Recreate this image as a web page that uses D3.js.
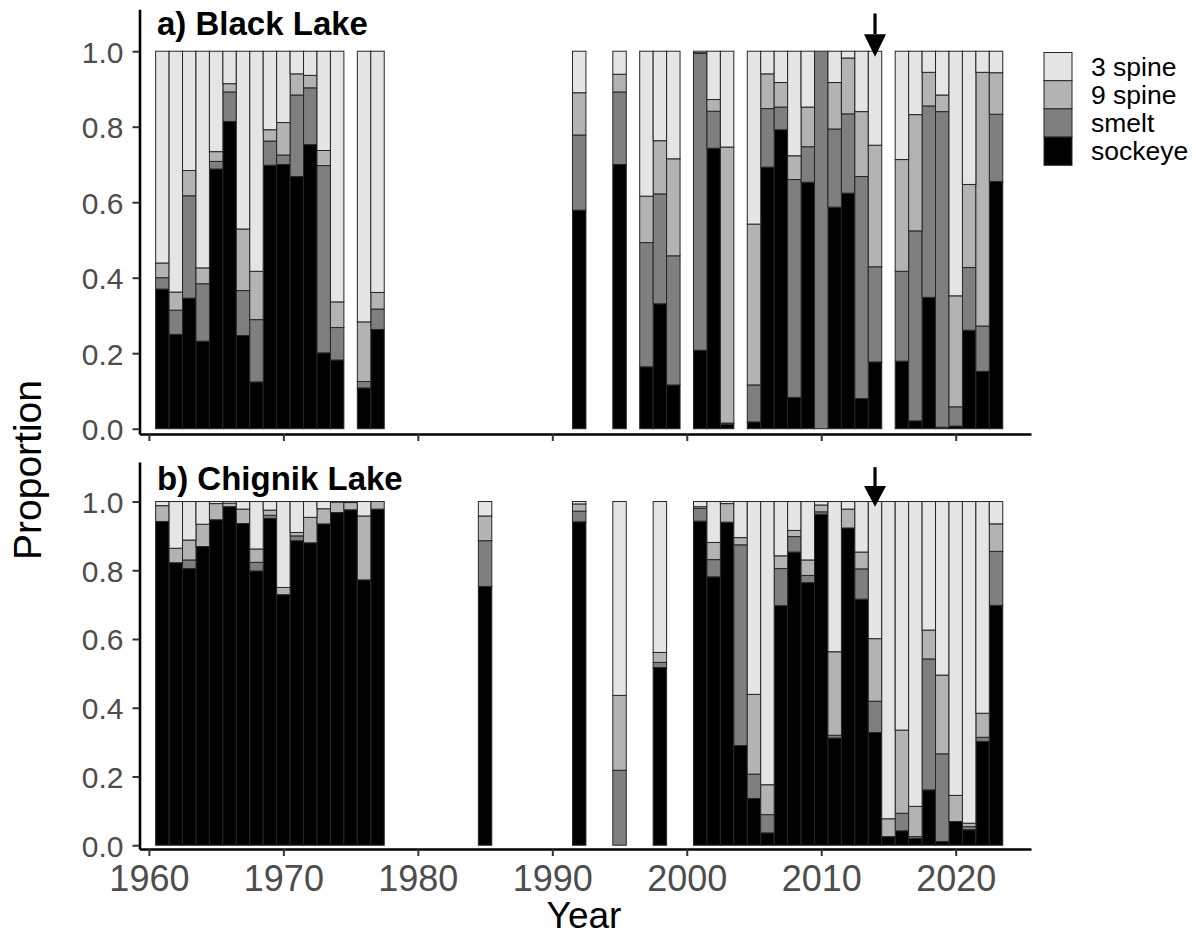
<!DOCTYPE html>
<html>
<head>
<meta charset="utf-8">
<script src="https://cdn.jsdelivr.net/npm/d3@7"></script>
<style>
  body { margin: 0; background: #fff; }
  svg text { font-family: "Liberation Sans", Arial, Helvetica, sans-serif; }
</style>
</head>
<body>
<svg id="chart" width="1196" height="939"></svg>
<script>
// ---- data: proportion of each species in the catch, by year ----
const stackKeys = ["sockeye", "smelt", "9 spine", "3 spine"];
const legendKeys = ["3 spine", "9 spine", "smelt", "sockeye"];
const fillColors = ["#000000", "#7f7f7f", "#b3b3b3", "#e5e5e5"]; // sockeye, smelt, 9 spine, 3 spine

const xTicks = [1960, 1970, 1980, 1990, 2000, 2010, 2020];
const yTicks = [0, 0.2, 0.4, 0.6, 0.8, 1.0];
const markYear = 2014;

// a) Black Lake
const blackYears = [1961,1962,1963,1964,1965,1966,1967,1968,1969,1970,1971,1972,1973,1974,1976,1977,
  1992,1995,1997,1998,1999,2001,2002,2003,2005,2006,2007,2008,2009,2010,2011,2012,2013,2014,
  2016,2017,2018,2019,2020,2021,2022,2023];
const blackSockeye = [.370,.250,.346,.232,.688,.814,.247,.124,.698,.700,.668,.753,.201,.182,.108,.263,
  .579,.700,.164,.331,.116,.208,.743,.012,.018,.693,.792,.083,.653,0,.587,.624,.080,.177,
  .179,.021,.348,.004,.007,.261,.152,.655];
const blackSmelt = [.030,.064,.271,.152,.020,.078,.119,.165,.064,.025,.216,.150,.496,.086,.017,.054,
  .199,.192,.329,.291,.342,.786,.098,.003,.098,.155,.060,.577,.094,1.0,.207,.210,.588,.252,
  .238,.503,.507,.836,.051,.166,.120,.178];
const blackNineSpine = [.039,.048,.067,.042,.026,.022,.163,.128,.030,.086,.056,.033,.040,.068,.158,.044,
  .112,.047,.123,.141,.257,.002,.031,.731,.426,.092,.065,.063,.105,0,.123,.148,.172,.322,
  .296,.308,.089,.044,.294,.220,.672,.110];
const blackThreeSpine = [.561,.638,.316,.574,.266,.086,.471,.583,.208,.189,.060,.064,.263,.664,.717,.639,
  .110,.061,.384,.237,.285,.004,.128,.254,.458,.060,.083,.277,.148,0,.083,.018,.160,.249,
  .287,.168,.056,.116,.648,.353,.056,.057];

// b) Chignik Lake
const chignikYears = [1961,1962,1963,1964,1965,1966,1967,1968,1969,1970,1971,1972,1973,1974,1975,1976,1977,
  1985,1992,1995,1998,
  2001,2002,2003,2004,2005,2006,2007,2008,2009,2010,2011,2012,2013,2014,2015,2016,2017,2018,2019,2020,2021,2022,2023];
const chignikSockeye = [.942,.822,.805,.869,.947,.985,.936,.798,.951,.729,.886,.880,.935,.968,.976,.772,.978,
  .753,.941,0,.517,
  .943,.781,.940,.290,.136,.036,.697,.853,.764,.963,.312,.923,.716,.328,.025,.042,.020,.161,.011,.069,.045,.302,.698];
const chignikSmelt = [0,0,.025,0,0,0,0,.025,.009,0,.014,0,0,0,0,0,0,
  .133,.031,.218,.015,
  .037,.050,0,.584,.071,.053,.108,.045,.021,.007,.008,0,.088,.091,0,.051,.005,.381,.255,0,.009,.012,.157];
const chignikNineSpine = [.046,.042,.058,.065,.047,.010,.042,.039,.015,.021,.010,.074,.044,.030,.021,.186,.022,
  .072,.021,.218,.029,
  .005,.050,.054,.021,.232,.087,.037,.018,.045,.020,.243,.055,.049,.182,.052,.242,.088,.084,.229,.076,.010,.070,.080];
const chignikThreeSpine = [.012,.136,.112,.066,.006,.005,.022,.138,.025,.250,.090,.046,.021,.002,.003,.042,0,
  .042,.007,.564,.439,
  .015,.119,.006,.105,.561,.824,.158,.084,.170,.010,.437,.022,.147,.399,.923,.665,.887,.374,.505,.855,.936,.616,.065];

// ---- drawing ----
const svg = d3.select("#chart");
const x = d3.scaleLinear().domain([1959.3, 2025.6]).range([139.5, 1031]);
const color = d3.scaleOrdinal().domain(stackKeys).range(fillColors);

function buildRows(years, sock, smelt, nine, three) {
  return years.map((yr, i) => ({
    year: yr, "sockeye": sock[i], "smelt": smelt[i], "9 spine": nine[i], "3 spine": three[i]
  }));
}

function drawPanel(opts) {
  const y = d3.scaleLinear().domain(opts.yDomain).range(opts.yRange);
  const g = svg.append("g");
  const series = d3.stack().keys(stackKeys)(opts.rows);

  g.selectAll("g.layer").data(series).join("g")
    .attr("class", "layer")
    .attr("fill", d => color(d.key))
    .selectAll("rect").data(d => d).join("rect")
      .attr("x", d => x(d.data.year - 0.5))
      .attr("width", d => x(d.data.year + 0.5) - x(d.data.year - 0.5))
      .attr("y", d => y(d[1]))
      .attr("height", d => Math.max(0, y(d[0]) - y(d[1])))
      .attr("stroke", "#262626")
      .attr("stroke-width", 1);

  // y axis
  const ya = g.append("g").attr("transform", `translate(${x.range()[0]},0)`)
    .call(d3.axisLeft(y).tickValues(yTicks).tickFormat(d3.format(".1f"))
      .tickSize(7).tickSizeOuter(0).tickPadding(9));
  // x axis
  const xa = g.append("g").attr("transform", `translate(0,${opts.yRange[0]})`)
    .call(d3.axisBottom(x).tickValues(xTicks)
      .tickFormat(opts.xLabels ? d3.format("d") : () => "")
      .tickSize(7).tickSizeOuter(0).tickPadding(9));

  [ya, xa].forEach(a => {
    a.select(".domain").attr("stroke", "#000").attr("stroke-width", 2.6);
    a.selectAll(".tick line").attr("stroke", "#333").attr("stroke-width", 2);
    a.selectAll(".tick text").attr("fill", "#4d4d4d");
  });
  ya.selectAll(".tick text").attr("font-size", 30).attr("dy", "0.36em");
  xa.selectAll(".tick text").attr("font-size", 36);

  // panel title
  g.append("text")
    .attr("x", 157).attr("y", opts.titleY)
    .attr("font-size", 33).attr("font-weight", "bold").attr("fill", "#000")
    .text(opts.title);

  // arrow marking the year of interest
  const ax = x(markYear);
  g.append("line")
    .attr("x1", ax).attr("x2", ax)
    .attr("y1", y(1.10)).attr("y2", y(1.045))
    .attr("stroke", "#000").attr("stroke-width", 3.2);
  g.append("path")
    .attr("d", d3.line()([[ax - 11, y(1.045)], [ax + 11, y(1.045)], [ax, y(0.985)]]) + "Z")
    .attr("fill", "#000");
}

drawPanel({
  rows: buildRows(blackYears, blackSockeye, blackSmelt, blackNineSpine, blackThreeSpine),
  yDomain: [-0.014, 1.111], yRange: [434, 9.3],
  title: "a) Black Lake", titleY: 35, xLabels: false
});
drawPanel({
  rows: buildRows(chignikYears, chignikSockeye, chignikSmelt, chignikNineSpine, chignikThreeSpine),
  yDomain: [-0.011, 1.115], yRange: [849, 462],
  title: "b) Chignik Lake", titleY: 490, xLabels: true
});

// axis titles
svg.append("text")
  .attr("x", 584).attr("y", 928).attr("text-anchor", "middle")
  .attr("font-size", 37).attr("fill", "#000").text("Year");
svg.append("text")
  .attr("transform", "translate(41,470) rotate(-90)").attr("text-anchor", "middle")
  .attr("font-size", 39).attr("fill", "#000").text("Proportion");

// legend
const legend = svg.append("g").attr("transform", "translate(1044,52.5)");
legendKeys.forEach((k, i) => {
  legend.append("rect")
    .attr("x", 0).attr("y", i * 28.2).attr("width", 28).attr("height", 28.2)
    .attr("fill", color(k)).attr("stroke", "#262626").attr("stroke-width", 1);
  legend.append("text")
    .attr("x", 47).attr("y", i * 28.2 + 14.1).attr("dy", "0.35em")
    .attr("font-size", 26.5).attr("fill", "#000").text(k);
});
</script>
</body>
</html>
